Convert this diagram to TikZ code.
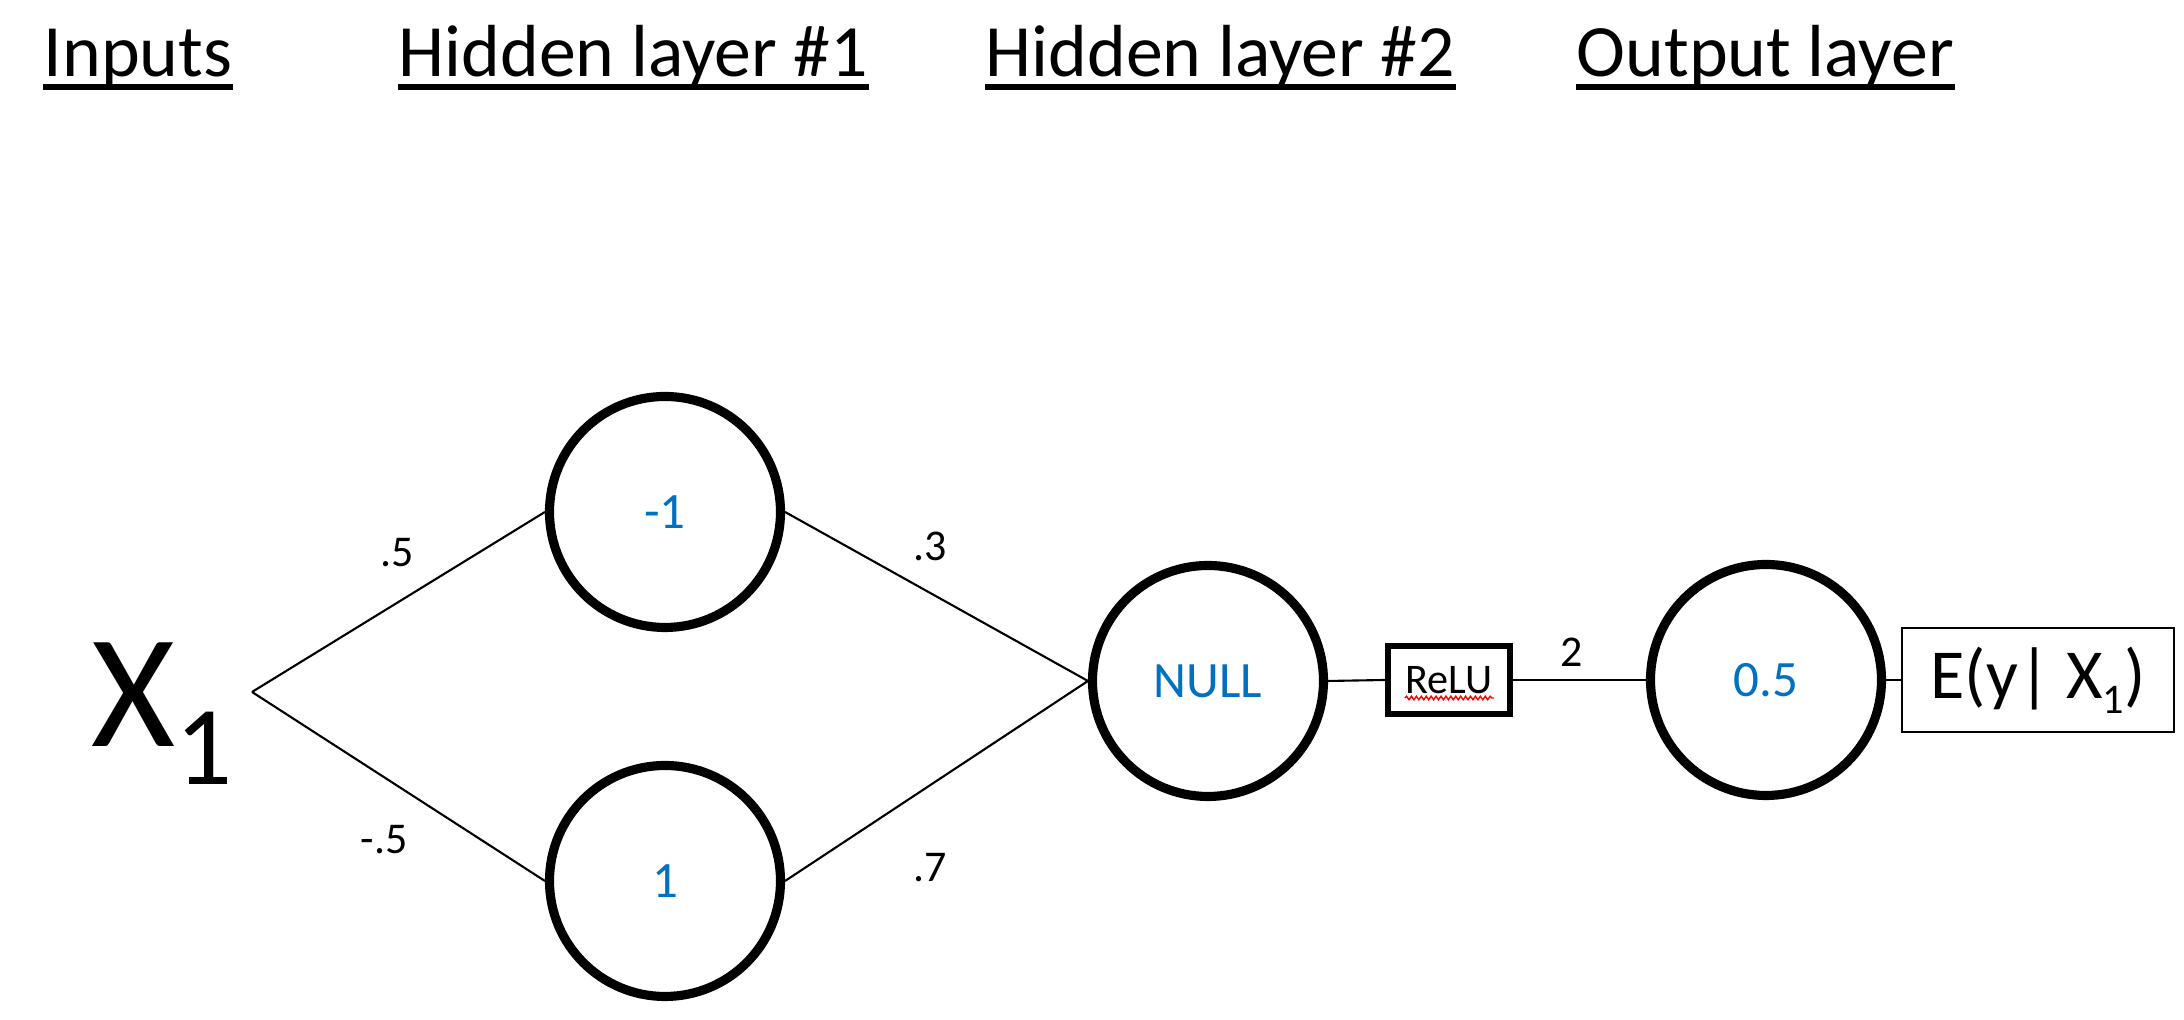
\documentclass[tikz,border=0pt]{standalone}
\usepackage{fontspec}
\setmainfont{Carlito}
\usetikzlibrary{decorations.pathmorphing}
\definecolor{nodeblue}{RGB}{0,112,192}

\begin{document}
\begin{tikzpicture}[
    neuron/.style={draw,circle,line width=2.6pt,minimum size=2.31cm,inner sep=0pt,
      text=nodeblue,font=\fontsize{14.5}{17}\selectfont},
    weight/.style={inner sep=0pt,font=\fontsize{12.5}{14}\selectfont},
    header/.style={anchor=base west,inner sep=0pt,font=\fontsize{21}{25}\selectfont},
    wire/.style={line width=0.6pt}]
    \useasboundingbox (0,0) rectangle (21.84,10.2);

    % headers
    \node (inp) at (0.43,9.43) [header] {Inputs};
    \node (hidA) at (3.98,9.43) [header] {Hidden layer \#1};
    \node (hidB) at (9.85,9.43) [header] {Hidden layer \#2};
    \node (outp) at (15.76,9.43) [header] {Output layer};
    \foreach \h in {inp,hidA,hidB,outp}
      \draw[line width=1.5pt] ([yshift=-0.1cm]\h.base west) -- ([yshift=-0.1cm]\h.base east);

    % input
    \node (x1) at (0.91,2.73) [anchor=base west,inner sep=0pt,font=\fontsize{46}{50}\selectfont]
      {X\raisebox{-10.8pt}{\fontsize{32}{32}\selectfont 1}};
    \coordinate (x1c) at (2.52,3.28);

    % hidden layer #1
    \node (h1) at (6.65,5.08) [neuron] {-1};
    \node (h2) at (6.65,1.39) [neuron] {1};

    % hidden layer #2
    \node (nul) at (12.08,3.39) [neuron] {NULL};
    \node (relu) at (14.49,3.40) [draw,line width=1.6pt,minimum width=1.22cm,minimum height=0.68cm,
      inner sep=0pt,font=\fontsize{12}{14}\selectfont] {ReLU};
    \draw[red,line width=0.4pt,decorate,decoration={snake,amplitude=0.5pt,segment length=1.4pt}]
      ([xshift=-0.44cm,yshift=-0.18cm]relu.center) -- ([xshift=0.45cm,yshift=-0.18cm]relu.center);

    % output layer
    \node (out) at (17.66,3.40) [neuron] {0.5};
    \node (eb) at (20.38,3.40) [draw,line width=0.8pt,minimum width=2.72cm,minimum height=1.04cm,
      inner sep=0pt,font=\fontsize{20}{24}\selectfont]
      {E(y| X\raisebox{-4.3pt}{\fontsize{12}{12}\selectfont 1})};

    % connections
    \draw[wire] (x1c) -- (h1.west);
    \draw[wire] (x1c) -- (h2.west);
    \draw[wire] (h1.east) -- (nul.west);
    \draw[wire] (h2.east) -- (nul.west);
    \draw[wire] (nul.east) -- (relu.west);
    \draw[wire] (relu.east) -- (out.west);
    \draw[wire] (out.east) -- (eb.west);

    % weights
    \node (wa) at (3.97,4.67) [weight] {.5};
    \node (wb) at (3.84,1.80) [weight] {-.5};
    \node (wc) at (9.30,4.74) [weight] {.3};
    \node (wd) at (9.30,1.52) [weight] {.7};
    \node (we) at (15.72,3.68) [weight] {2};
\end{tikzpicture}
\end{document}
